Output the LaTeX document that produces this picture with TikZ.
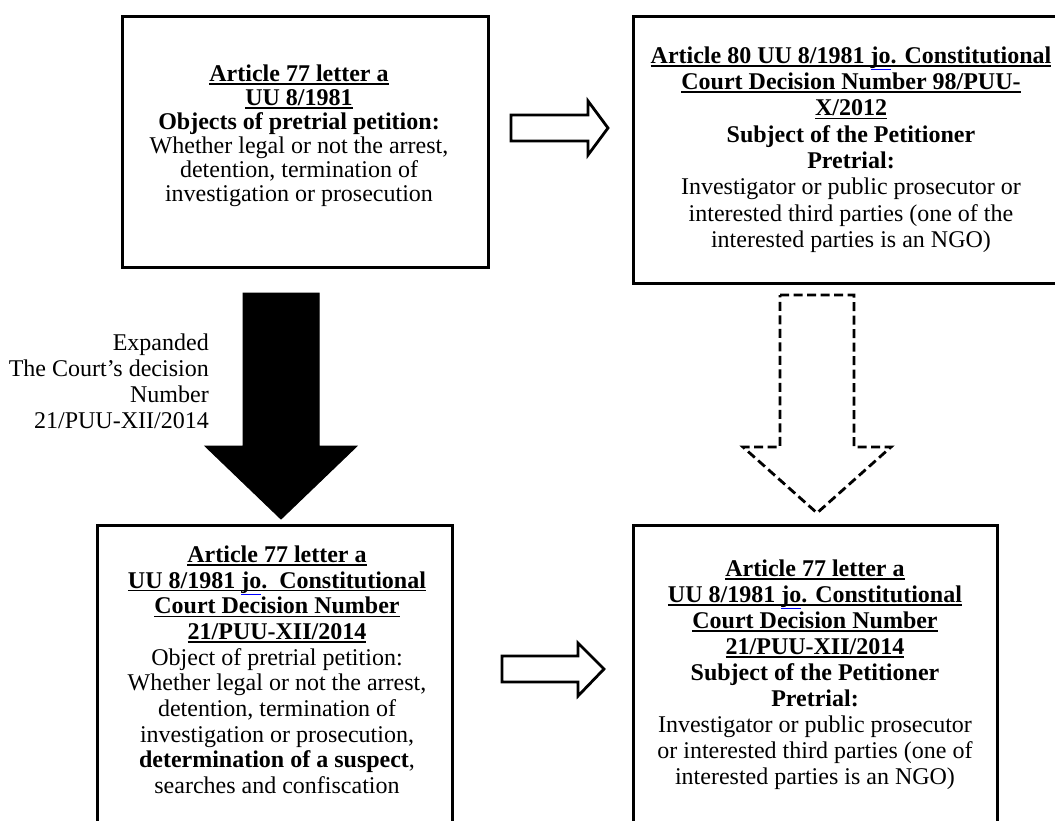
\documentclass[tikz,border=0pt]{standalone}
\usepackage{fontspec}
\setmainfont{Liberation Serif}
\newsavebox\ulbox
\newsavebox\jobox
\newcommand\myul[1]{\sbox\ulbox{#1}\usebox\ulbox\llap{\rule[-3.4pt]{\wd\ulbox}{1.6pt}}}
\newcommand\jomark{\sbox\jobox{jo}\usebox\jobox\llap{\textcolor{blue}{\rule[-6.6pt]{\wd\jobox}{0.9pt}}}}
\begin{document}
\begin{tikzpicture}[x=1pt,y=-1pt,
  box/.style={draw, line width=3pt, rectangle, inner sep=0pt},
  txt/.style={align=center, inner sep=0pt, anchor=north},
  blockhollow/.style={draw, line width=2.8pt, fill=white, line join=miter},
  blocksolid/.style={draw, line width=1pt, fill=black, line join=miter},
  blockdash/.style={draw, line width=2.8pt, dash pattern=on 9pt off 4.5pt, line join=miter}]
\useasboundingbox (0,0) rectangle (1055,821);
\begin{scope}
\clip (0,0) rectangle (1055,821);
% boxes
\node[box, minimum width=366pt, minimum height=250pt] (b1) at (305,142) {};
\node[box, minimum width=436pt, minimum height=266pt] (b2) at (851,150) {};
\node[box, minimum width=355pt, minimum height=335pt] (b3) at (274.5,692.5) {};
\node[box, minimum width=364pt, minimum height=335pt] (b4) at (815,692.5) {};
% block arrows
\draw[blockhollow] (511,115) -- (588,115) -- (588,101) -- (608,128) -- (588,155) -- (588,141) -- (511,141) -- cycle;
\draw[blockhollow] (502,656) -- (578,656) -- (578,643) -- (604,669) -- (578,696) -- (578,682) -- (502,682) -- cycle;
\draw[blocksolid] (243,293) -- (319,293) -- (319,446) -- (357,446) -- (281,519) -- (205,446) -- (243,446) -- cycle;
\draw[blockdash] (780,295) -- (854,295) -- (854,447) -- (891,447) -- (817,513) -- (743,447) -- (780,447) -- cycle;
% texts
\node[txt, font=\fontsize{24}{24.1}\selectfont] (t1) at (299,64.5) {%
\myul{\textbf{Article 77 letter a}}\\
\myul{\textbf{UU 8/1981}}\\
\textbf{Objects of pretrial petition:}\\
Whether legal or not the arrest,\\
detention, termination of\\
investigation or prosecution};
\node[txt, font=\fontsize{24}{26.3}\selectfont] (t2) at (851,46.5) {%
\myul{\textbf{Article 80 UU 8/1981 \jomark. Constitutional}}\\
\myul{\textbf{Court Decision Number 98/PUU-}}\\
\myul{\textbf{X/2012}}\\
\textbf{Subject of the Petitioner}\\
\textbf{Pretrial:}\\
Investigator or public prosecutor or\\
interested third parties (one of the\\
interested parties is an NGO)};
\node[txt, font=\fontsize{24}{25.7}\selectfont] (t3) at (277,545.5) {%
\myul{\textbf{Article 77 letter a}}\\
\myul{\textbf{UU 8/1981 \jomark.\ \ Constitutional}}\\
\myul{\textbf{Court Decision Number}}\\
\myul{\textbf{21/PUU-XII/2014}}\\
Object of pretrial petition:\\
Whether legal or not the arrest,\\
detention, termination of\\
investigation or prosecution,\\
\textbf{determination of a suspect},\\
searches and confiscation};
\node[txt, font=\fontsize{24}{26}\selectfont] (t4) at (815,559.5) {%
\myul{\textbf{Article 77 letter a}}\\
\myul{\textbf{UU 8/1981 \jomark. Constitutional}}\\
\myul{\textbf{Court Decision Number}}\\
\myul{\textbf{21/PUU-XII/2014}}\\
\textbf{Subject of the Petitioner}\\
\textbf{Pretrial:}\\
Investigator or public prosecutor\\
or interested third parties (one of\\
interested parties is an NGO)};
\node[align=right, inner sep=0pt, anchor=north east, font=\fontsize{24}{26}\selectfont] (lab) at (209,334) {%
Expanded\\
The Court's decision\\
Number\\
21/PUU-XII/2014};
\end{scope}
\end{tikzpicture}
\end{document}
